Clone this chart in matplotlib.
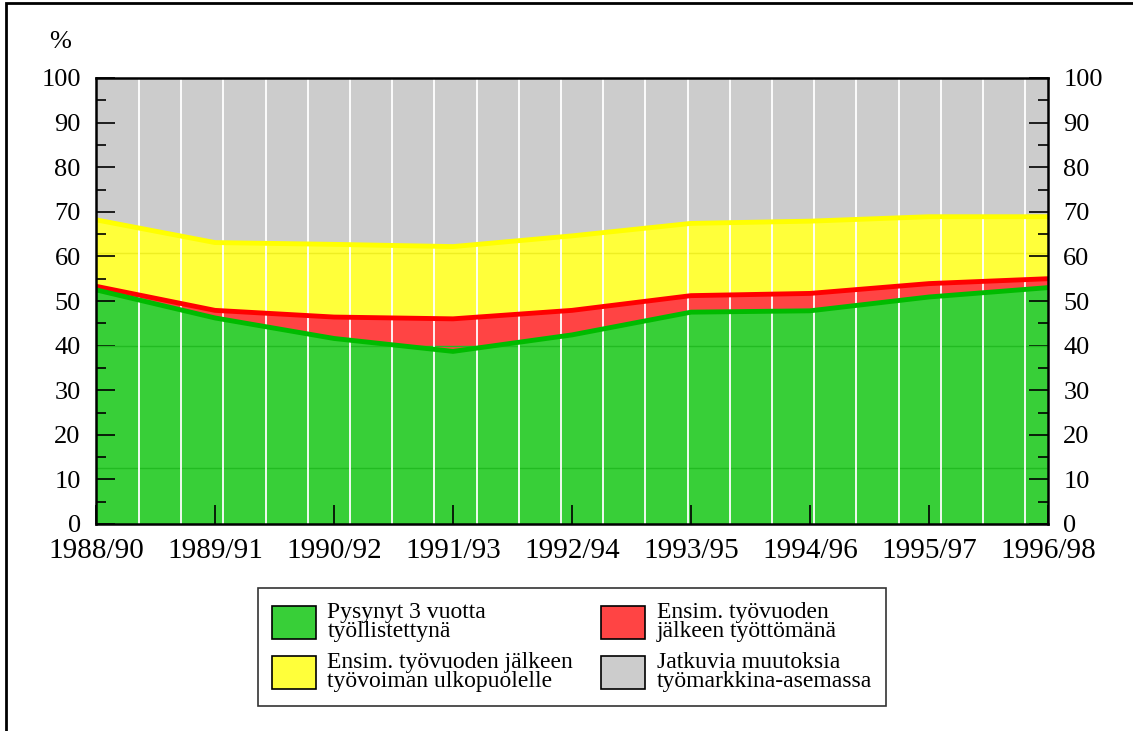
import matplotlib.pyplot as plt
import matplotlib.patches as mpatches
import numpy as np

plt.rcParams['font.family'] = ['Liberation Serif', 'DejaVu Serif']

periods = ['1988/90', '1989/91', '1990/92', '1991/93', '1992/94',
           '1993/95', '1994/96', '1995/97', '1996/98']
# kumulatiiviset rajat (%)
tyollistetty = [52.5, 46.2, 41.6, 38.7, 42.4, 47.5, 47.8, 50.9, 53.0]
tyoton_yla = [53.3, 47.9, 46.4, 46.0, 47.9, 51.2, 51.7, 53.9, 55.0]
ulkopuolella_yla = [68.2, 63.1, 62.7, 62.2, 64.6, 67.4, 67.9, 68.9, 68.9]

labels = ['Pysynyt 3 vuotta\ntyöllistettynä',
          'Ensim. työvuoden jälkeen\ntyövoiman ulkopuolelle',
          'Ensim. työvuoden\njälkeen työttömänä',
          'Jatkuvia muutoksia\ntyömarkkina-asemassa']

c_green, c_red, c_yellow, c_gray = '#38cf38', '#ff4444', '#ffff3a', '#cccccc'

fig = plt.figure(figsize=(11.33, 7.31), dpi=100)
ax = fig.add_axes([96 / 1133, 1 - 524 / 731, 952 / 1133, 446 / 731])

x = np.arange(len(periods))
ax.fill_between(x, 0, tyollistetty, color=c_green, lw=0)
ax.fill_between(x, tyollistetty, tyoton_yla, color=c_red, lw=0)
ax.fill_between(x, tyoton_yla, ulkopuolella_yla, color=c_yellow, lw=0)
ax.fill_between(x, ulkopuolella_yla, 100, color=c_gray, lw=0)

# ohuet vaaka-apuviivat kuten alkuperäisessä
ax.axhline(12.5, color='#22bb22', lw=1)
ax.axhline(40, color='#22bb22', lw=1)
ax.axhline(60.7, color='#eeee22', lw=1)

# valkoiset pystyviivat
for xv in np.arange(0.361, 8, 0.3546):
    ax.axvline(xv, color='white', lw=1.3)

ax.plot(x, ulkopuolella_yla, color='#ffff00', lw=3.5, solid_capstyle='butt')
ax.plot(x, tyoton_yla, color='#ff0000', lw=3.5, solid_capstyle='butt')
ax.plot(x, tyollistetty, color='#00bb00', lw=3.5, solid_capstyle='butt')

ax.set_xlim(0, 8)
ax.set_ylim(0, 100)
ax.set_xticks(x)
ax.set_xticklabels(periods, fontsize=21)
ax.set_yticks(np.arange(0, 101, 10))
ax.set_yticks(np.arange(5, 100, 10), minor=True)
ax.tick_params(axis='y', which='major', direction='in', length=14, width=1.2,
               labelsize=19, right=True, labelright=True, pad=11)
ax.tick_params(axis='y', which='minor', direction='in', length=7, width=1.2,
               right=True)
ax.tick_params(axis='x', direction='in', length=14, width=1.2, pad=10)
for s in ax.spines.values():
    s.set_linewidth(1.8)
    s.set_zorder(5)

fig.text(60 / 1133, 1 - 42 / 731, '%', fontsize=19, ha='center', va='center')

handles = [mpatches.Patch(facecolor=c, edgecolor='black', lw=1.2)
           for c in (c_green, c_yellow, c_red, c_gray)]
leg = fig.legend(handles, labels, ncol=2, loc='center',
                 bbox_to_anchor=(572 / 1133, 1 - 647 / 731), fontsize=17,
                 frameon=True, fancybox=False, edgecolor='black',
                 handlelength=1.85, handleheight=1.75, labelspacing=0.4,
                 columnspacing=1.2, handletextpad=0.5, borderpad=0.6)
leg.get_frame().set_linewidth(1.2)
for t in leg.get_texts():
    t.set_linespacing(0.9)

# kehys
fig.add_artist(mpatches.Rectangle((6 / 1133, -0.1), 1.2, (1 - 3 / 731) + 0.1,
                                  transform=fig.transFigure, fill=False,
                                  edgecolor='black', lw=2))

fig.savefig('out.png', dpi=100)
